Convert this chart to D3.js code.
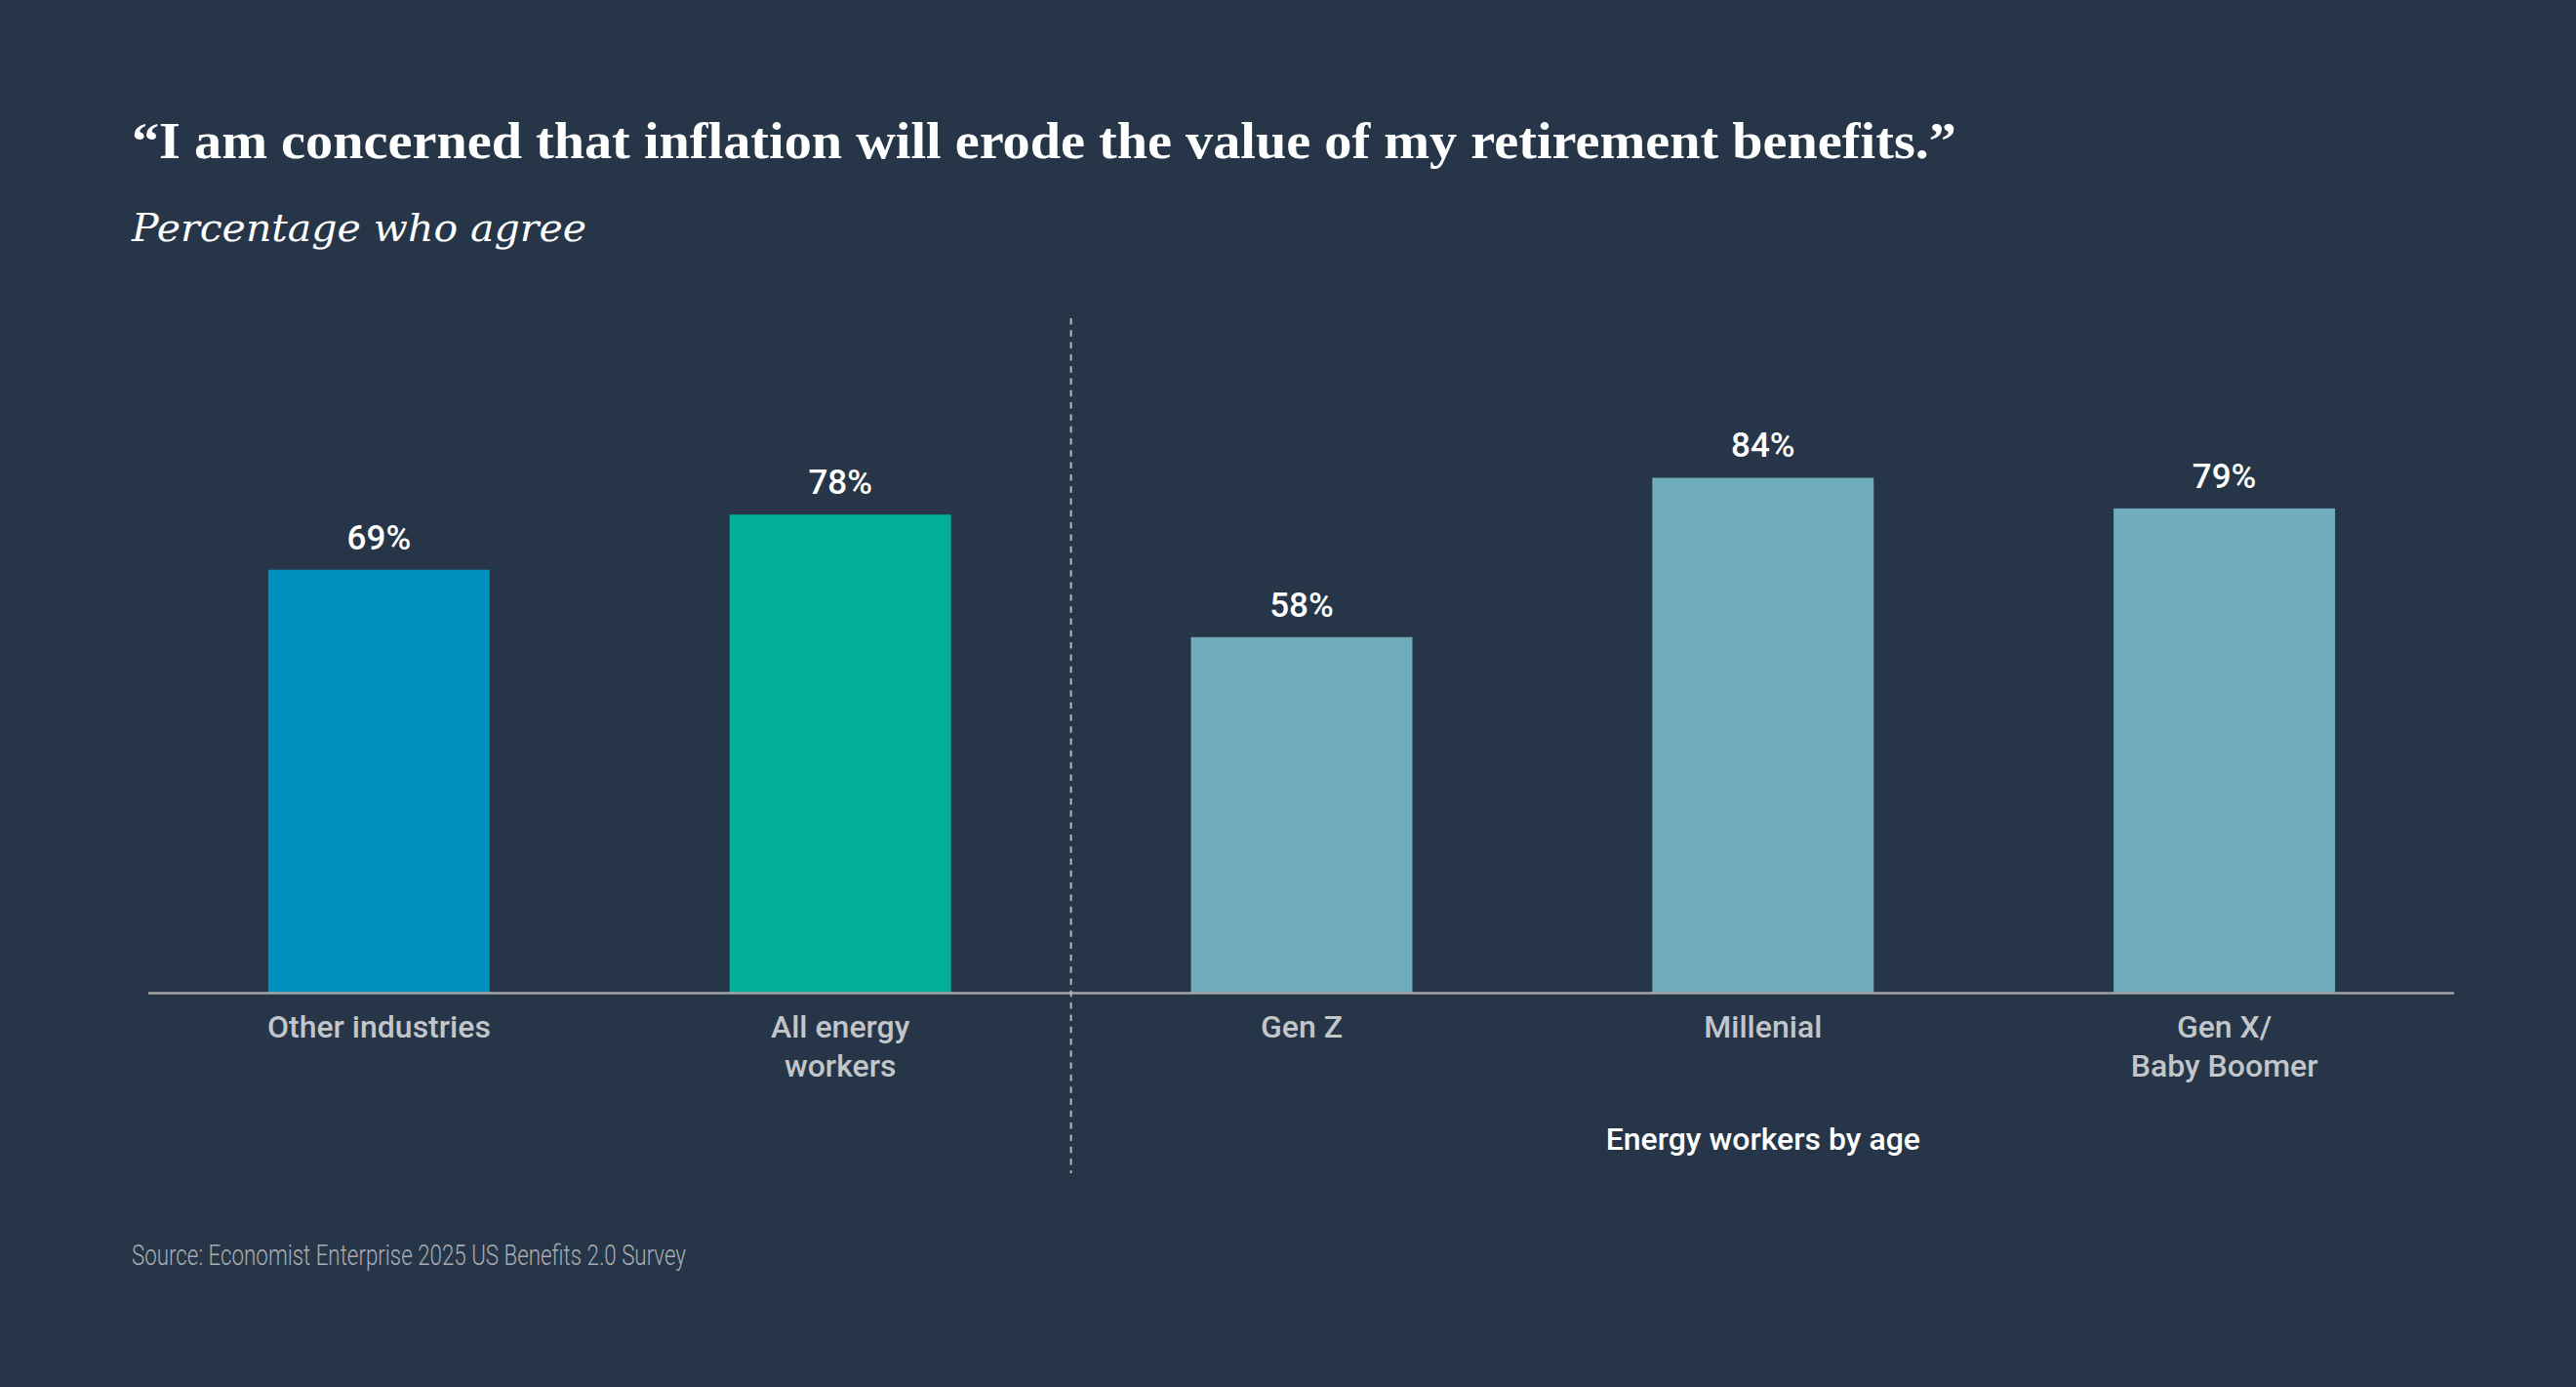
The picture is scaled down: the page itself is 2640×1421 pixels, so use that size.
<!DOCTYPE html>
<html>
<head>
<meta charset="utf-8">
<script src="https://cdn.jsdelivr.net/npm/d3@7"></script>
<style>
  html, body { margin: 0; padding: 0; background: #263648; }
  svg { display: block; }
</style>
</head>
<body>
<svg id="chart" width="2640" height="1421"></svg>
<script>
// ---- Data ----
const categories = ["Other industries", "All energy workers", "Gen Z", "Millenial", "Gen X/ Baby Boomer"];
const categoryLines = [["Other industries"], ["All energy", "workers"], ["Gen Z"], ["Millenial"], ["Gen X/", "Baby Boomer"]];
const values = [69, 78, 58, 84, 79];
const barColors = ["#008fbf", "#00ae99", "#6fadbd", "#6fadbd", "#6fadbd"];
const titleText = "\u201CI am concerned that inflation will erode the value of my retirement benefits.\u201D";
const subtitleText = "Percentage who agree";
const groupLabel = "Energy workers by age";
const sourceText = "Source: Economist Enterprise 2025 US Benefits 2.0 Survey";

// ---- Layout ----
const W = 2640, H = 1421;
const svg = d3.select("#chart");
svg.append("rect").attr("width", W).attr("height", H).attr("fill", "#263648");

const x = d3.scaleBand().domain(categories).range([152, 2516]).paddingInner(0.52).paddingOuter(0.26);
const y = d3.scaleLinear().domain([0, 100]).range([1017, 389]);

// Title & subtitle
svg.append("text")
  .attr("x", 135).attr("y", 162)
  .attr("font-family", "'Liberation Serif', 'Times New Roman', serif")
  .attr("font-weight", 700).attr("font-size", 52)
  .attr("fill", "#ffffff")
  .attr("textLength", 1870).attr("lengthAdjust", "spacingAndGlyphs")
  .text(titleText);

svg.append("text")
  .attr("x", 135).attr("y", 247)
  .attr("font-family", "'DejaVu Serif', serif")
  .attr("font-style", "italic").attr("font-size", 40)
  .attr("fill", "#ffffff")
  .attr("textLength", 466).attr("lengthAdjust", "spacingAndGlyphs")
  .text(subtitleText);

// Bars
const data = categories.map((c, i) => ({ cat: c, value: values[i], color: barColors[i], lines: categoryLines[i] }));

svg.append("g").selectAll("rect").data(data).join("rect")
  .attr("x", d => x(d.cat))
  .attr("y", d => y(d.value))
  .attr("width", x.bandwidth())
  .attr("height", d => y(0) - y(d.value))
  .attr("fill", d => d.color);

// Value labels
svg.append("g").selectAll("text").data(data).join("text")
  .attr("x", d => x(d.cat) + x.bandwidth() / 2)
  .attr("y", d => y(d.value) - 21)
  .attr("text-anchor", "middle")
  .attr("font-family", "Roboto, 'Open Sans', sans-serif")
  .attr("font-weight", 500).attr("font-size", 35)
  .attr("fill", "#ffffff")
  .text(d => d.value + "%");

// Axis baseline
svg.append("line")
  .attr("x1", 152).attr("x2", 2515)
  .attr("y1", y(0) + 0.5).attr("y2", y(0) + 0.5)
  .attr("stroke", "#a3a3a3").attr("stroke-width", 2.5);

// Divider (dashed) between group 1 and group 2
const divX = (x(categories[1]) + x.bandwidth() + x(categories[2])) / 2;
svg.append("line")
  .attr("x1", divX).attr("x2", divX)
  .attr("y1", 326).attr("y2", 1202)
  .attr("stroke", "#b3b9bf").attr("stroke-width", 2)
  .attr("stroke-dasharray", "6.5,5.8");

// Category labels
const catG = svg.append("g").selectAll("text").data(data).join("text")
  .attr("text-anchor", "middle")
  .attr("font-family", "Roboto, 'Open Sans', sans-serif")
  .attr("font-weight", 500).attr("font-size", 32)
  .attr("fill", "#c2c6ca");
catG.selectAll("tspan").data(d => d.lines.map(l => ({ l, cx: x(d.cat) + x.bandwidth() / 2 }))).join("tspan")
  .attr("x", t => t.cx)
  .attr("y", (t, i) => 1063 + i * 40)
  .text(t => t.l);

// Group label
svg.append("text")
  .attr("x", x("Millenial") + x.bandwidth() / 2).attr("y", 1178)
  .attr("text-anchor", "middle")
  .attr("font-family", "Roboto, 'Open Sans', sans-serif")
  .attr("font-weight", 500).attr("font-size", 32)
  .attr("fill", "#ffffff")
  .text(groupLabel);

// Source
svg.append("text")
  .attr("x", 135).attr("y", 1296)
  .attr("font-family", "Roboto, 'Open Sans', sans-serif")
  .attr("font-weight", 300).attr("font-size", 30)
  .attr("fill", "#a9adb2")
  .attr("textLength", 568).attr("lengthAdjust", "spacingAndGlyphs")
  .text(sourceText);
</script>
</body>
</html>
